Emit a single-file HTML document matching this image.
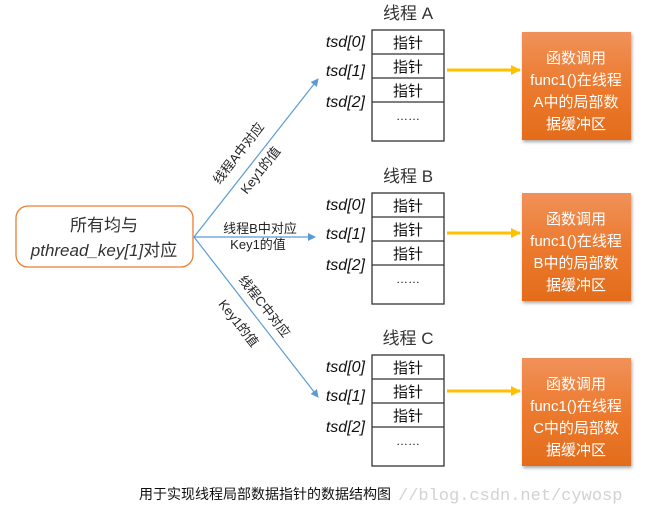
<!DOCTYPE html>
<html><head><meta charset="utf-8"><style>
body{margin:0;background:#fff;width:647px;height:513px;overflow:hidden}
svg text{font-family:"Liberation Sans","Noto Sans CJK SC",sans-serif}
</style></head><body>
<svg width="647" height="513" viewBox="0 0 647 513" xmlns="http://www.w3.org/2000/svg">
<defs>
<linearGradient id="og" x1="0" y1="0" x2="0" y2="1"><stop offset="0" stop-color="#f0915a"/><stop offset="0.5" stop-color="#ec7a2e"/><stop offset="1" stop-color="#e36c1c"/></linearGradient>
<marker id="ab" markerWidth="8" markerHeight="8" refX="7" refY="4" orient="auto" markerUnits="userSpaceOnUse"><path d="M0,0 L8,4 L0,8 z" fill="#5b9bd5"/></marker>
<marker id="ay" markerWidth="10" markerHeight="10" refX="9" refY="5" orient="auto" markerUnits="userSpaceOnUse"><path d="M0,0 L10,5 L0,10 z" fill="#ffc000"/></marker>
<filter id="sh"><feDropShadow dx="1" dy="2" stdDeviation="1.5" flood-opacity="0.35"/></filter>
</defs>
<rect x="16" y="206" width="177" height="61" rx="12" fill="#fff" stroke="#ed7d31" stroke-width="1.3"/>
<text x="104" y="231" font-size="17" text-anchor="middle" fill="#333">所有均与</text>
<text x="104" y="256" font-size="17" text-anchor="middle" fill="#333"><tspan font-style="italic">pthread_key[1]</tspan>对应</text>
<g stroke="#5b9bd5" stroke-width="1.2" fill="none">
<line x1="194" y1="237" x2="318" y2="79" marker-end="url(#ab)"/>
<line x1="194" y1="237" x2="315" y2="237" marker-end="url(#ab)"/>
<line x1="194" y1="237" x2="318" y2="397" marker-end="url(#ab)"/>
</g>
<g font-size="13" fill="#222" text-anchor="middle">
<text transform="translate(242,156) rotate(-52)">线程A中对应</text>
<text transform="translate(264,173) rotate(-52)">Key1的值</text>
<text x="260" y="233">线程B中对应</text>
<text x="258" y="249">Key1的值</text>
<text transform="translate(261,309) rotate(52)">线程C中对应</text>
<text transform="translate(235,326) rotate(52)">Key1的值</text>
</g>
<g id="tA">
<text x="408" y="19" font-size="17" text-anchor="middle" fill="#333">线程 A</text>
<g fill="#fff" stroke="#333" stroke-width="1.3">
<rect x="372" y="30" width="72" height="111"/>
<line x1="372" y1="54" x2="444" y2="54"/><line x1="372" y1="78" x2="444" y2="78"/><line x1="372" y1="102" x2="444" y2="102"/>
</g>
<g font-size="15" text-anchor="middle" fill="#111"><text x="408" y="48">指针</text><text x="408" y="72">指针</text><text x="408" y="96">指针</text><text x="408" y="120" font-size="12">……</text></g>
<g font-size="16" font-style="italic" fill="#111" text-anchor="end"><text x="365" y="47">tsd[0]</text><text x="365" y="76">tsd[1]</text><text x="365" y="107">tsd[2]</text></g>
</g>
<use href="#tA" y="163"/>
<use href="#tA" y="325"/>
<rect x="372" y="167" width="100" height="20" fill="#fff"/>
<text x="408" y="182" font-size="17" text-anchor="middle" fill="#333">线程 B</text>
<rect x="372" y="329" width="100" height="20" fill="#fff"/>
<text x="408" y="344" font-size="17" text-anchor="middle" fill="#333">线程 C</text>
<g stroke="#ffc000" stroke-width="3">
<line x1="447" y1="70" x2="520" y2="70" marker-end="url(#ay)"/>
<line x1="447" y1="233" x2="520" y2="233" marker-end="url(#ay)"/>
<line x1="447" y1="391" x2="520" y2="391" marker-end="url(#ay)"/>
</g>
<g font-size="15" fill="#fff" text-anchor="middle">
<rect x="522" y="32" width="109" height="108" fill="url(#og)" filter="url(#sh)"/>
<text x="576" y="63">函数调用</text><text x="576" y="85">func1()在线程</text><text x="576" y="107">A中的局部数</text><text x="576" y="129">据缓冲区</text>
<rect x="522" y="193" width="109" height="108" fill="url(#og)" filter="url(#sh)"/>
<text x="576" y="224">函数调用</text><text x="576" y="246">func1()在线程</text><text x="576" y="268">B中的局部数</text><text x="576" y="290">据缓冲区</text>
<rect x="522" y="358" width="109" height="108" fill="url(#og)" filter="url(#sh)"/>
<text x="576" y="389">函数调用</text><text x="576" y="411">func1()在线程</text><text x="576" y="433">C中的局部数</text><text x="576" y="455">据缓冲区</text>
</g>
<text x="139" y="499" font-size="14" fill="#111">用于实现线程局部数据指针的数据结构图</text>
<text x="398" y="500" font-size="17" fill="#d2d2d2" style="font-family:'Liberation Mono',monospace">//blog.csdn.net/cywosp</text>
</svg>
</body></html>
